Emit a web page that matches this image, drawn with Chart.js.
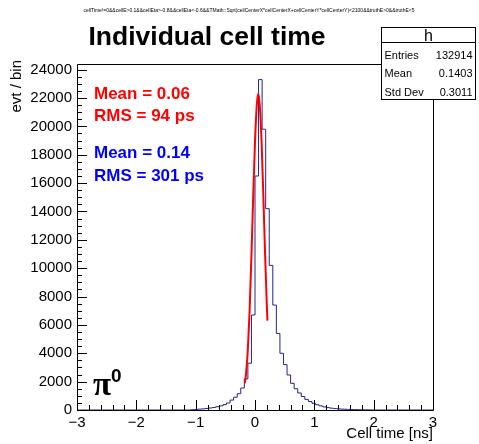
<!DOCTYPE html>
<html>
<head>
<meta charset="utf-8">
<script src="https://cdn.jsdelivr.net/npm/chart.js@4.4.0/dist/chart.umd.min.js"></script>
<style>
  body { margin: 0; background: #fff; }
  canvas { display: block; }
</style>
</head>
<body>
<canvas id="myChart" width="479" height="444"></canvas>
<script>
// histogram binning (100 bins from -3 to 3 ns)
const xMin = -3, xMax = 3, nBins = 100;

// events per bin
const counts = [
  0, 0, 0, 0, 0, 0, 0, 0, 0, 0,
  0, 0, 0, 0, 0, 0, 0, 0, 0, 0,
  0, 0, 0, 0, 0, 0, 0, 0, 0, 0,
  0, 20, 40, 60, 80, 110, 140, 180, 230, 290,
  380, 500, 700, 900, 1150, 1550, 2200, 3300, 6700, 16500,
  23300, 19800, 14200, 10200, 7400, 5400, 4000, 3200, 2470, 1880,
  1500, 1200, 950, 750, 600, 470, 370, 290, 220, 170,
  130, 100, 80, 60, 50, 40, 30, 25, 20, 15,
  10, 5, 0, 0, 0, 0, 0, 0, 0, 0,
  0, 0, 0, 0, 0, 0, 0, 0, 0, 0
];

// gaussian fit curve
const fitX = [-0.17, -0.15, -0.12, -0.09, -0.06, -0.03, 0.0, 0.03, 0.055, 0.08, 0.11, 0.14, 0.17, 0.2, 0.21];
const fitY = [1900, 2600, 4300, 7100, 10900, 15100, 18900, 21500, 22300, 21500, 19000, 15200, 11000, 7300, 6300];

const xTicks = [-3, -2, -1, 0, 1, 2, 3];
const yTicks = [0, 2000, 4000, 6000, 8000, 10000, 12000, 14000, 16000, 18000, 20000, 22000, 24000];
const yMax = 24400;

const statsTitle = 'h';
const statsRows = [['Entries', '132914'], ['Mean', '0.1403'], ['Std Dev', '0.3011']];
const selection = 'cellTime!=0&&cellE>0.1&&cellEta>-0.8&&cellEta<-0.6&&TMath::Sqrt(cellCenterX*cellCenterX+cellCenterY*cellCenterY)<2100&&truthE>0&&truthE<5';

const FONT = '"Liberation Sans", Arial, Helvetica, sans-serif';

// one point per bin edge, the value holds until the next edge
function histPoints() {
  const w = (xMax - xMin) / nBins;
  const pts = [{ x: xMin, y: counts[0] }];
  counts.forEach((c, i) => pts.push({ x: xMin + (i + 1) * w, y: c }));
  return pts;
}

const rootStyle = {
  id: 'rootStyle',
  afterDatasetsDraw(chart) {
    const ctx = chart.ctx;
    const a = chart.chartArea;
    const xs = chart.scales.x, ys = chart.scales.y;
    ctx.save();
    ctx.strokeStyle = '#000';
    ctx.lineWidth = 1;
    ctx.beginPath();
    ctx.rect(Math.round(a.left) + 0.5, Math.round(a.top) + 0.5, Math.round(a.right - a.left), Math.round(a.bottom - a.top));
    ctx.stroke();
    // x ticks, inside the frame
    ctx.beginPath();
    for (let k = 0; k <= 30; k++) {
      const v = xMin + k * 0.2;
      const px = Math.round(xs.getPixelForValue(v)) + 0.5;
      const len = (k % 5 === 0) ? 10 : 5;
      ctx.moveTo(px, a.bottom);
      ctx.lineTo(px, a.bottom - len);
    }
    // y ticks
    for (let v = 0; v <= yMax; v += 500) {
      const py = Math.round(ys.getPixelForValue(v)) + 0.5;
      const len = (v % 2000 === 0) ? 10 : 5;
      ctx.moveTo(a.left, py);
      ctx.lineTo(a.left + len, py);
    }
    ctx.stroke();
    ctx.restore();
  },
  afterDraw(chart) {
    const ctx = chart.ctx;
    const a = chart.chartArea;
    ctx.save();
    ctx.fillStyle = '#000';

    // selection string
    ctx.font = '5px ' + FONT;
    ctx.textAlign = 'center';
    ctx.textBaseline = 'alphabetic';
    ctx.fillText(selection, 249, 12);

    // title
    ctx.font = 'bold 26.5px ' + FONT;
    ctx.fillText('Individual cell time', 207, 45);

    // axis titles
    ctx.font = '15px ' + FONT;
    ctx.textAlign = 'right';
    ctx.fillText('Cell time [ns]', a.right, 438);
    ctx.save();
    ctx.translate(21, 60);
    ctx.rotate(-Math.PI / 2);
    ctx.fillText('evt / bin', 0, 0);
    ctx.restore();

    // fit / histogram numbers
    ctx.textAlign = 'left';
    ctx.font = 'bold 17px ' + FONT;
    ctx.fillStyle = '#ff0000';
    ctx.fillText('Mean = 0.06', 94, 99);
    ctx.fillText('RMS = 94 ps', 94, 121);
    ctx.fillStyle = '#0000ff';
    ctx.fillText('Mean = 0.14', 94, 158);
    ctx.fillText('RMS = 301 ps', 94, 181);

    // pi0 label
    ctx.fillStyle = '#000';
    ctx.font = 'bold 33px "Liberation Serif", "Times New Roman", serif';
    ctx.fillText('\u03c0', 93, 395);
    ctx.font = 'bold 19px ' + FONT;
    ctx.fillText('0', 111, 382);

    // stats box
    const bx = 381.5, by = 27.5, bw = 94, bh = 72;
    ctx.fillStyle = '#fff';
    ctx.fillRect(bx, by, bw, bh);
    ctx.strokeStyle = '#000';
    ctx.lineWidth = 1;
    ctx.strokeRect(bx, by, bw, bh);
    ctx.beginPath();
    ctx.moveTo(bx, by + 15);
    ctx.lineTo(bx + bw, by + 15);
    ctx.stroke();
    ctx.fillStyle = '#000';
    ctx.font = '16px ' + FONT;
    ctx.textAlign = 'center';
    ctx.fillText(statsTitle, bx + bw / 2, by + 13);
    ctx.font = '11px ' + FONT;
    statsRows.forEach((r, i) => {
      const yy = by + 31 + i * 18.5;
      ctx.textAlign = 'left';
      ctx.fillText(r[0], bx + 3, yy);
      ctx.textAlign = 'right';
      ctx.fillText(r[1], bx + bw - 3, yy);
    });
    ctx.restore();
  }
};

window.addEventListener('load', setup);

function setup() {
  const ctx = document.getElementById('myChart').getContext('2d');
  new Chart(ctx, {
    type: 'line',
    data: {
      datasets: [
        {
          label: 'fit',
          data: fitX.map((x, i) => ({ x: x, y: fitY[i] })),
          borderColor: '#ff0000',
          borderWidth: 2,
          pointRadius: 0,
          tension: 0.4,
          cubicInterpolationMode: 'monotone',
          fill: false,
          order: 0
        },
        {
          label: 'h',
          data: histPoints(),
          borderColor: '#24248c',
          borderWidth: 1,
          pointRadius: 0,
          stepped: 'before',
          fill: false,
          order: 1
        }
      ]
    },
    options: {
      responsive: false,
      animation: false,
      layout: { padding: { left: 17, top: 64, right: 46, bottom: 12 } },
      plugins: { legend: { display: false }, tooltip: { enabled: false } },
      scales: {
        x: {
          type: 'linear',
          min: xMin,
          max: xMax,
          afterBuildTicks: s => { s.ticks = xTicks.map(v => ({ value: v })); },
          afterFit: s => { s.height = 22; },
          grid: { display: false, drawTicks: false, tickLength: 0 },
          border: { display: false },
          ticks: {
            color: '#000',
            padding: 4,
            maxRotation: 0,
            font: { family: FONT, size: 15 },
            callback: v => String(v).replace('-', '\u2212')
          }
        },
        y: {
          type: 'linear',
          min: 0,
          max: yMax,
          afterBuildTicks: s => { s.ticks = yTicks.map(v => ({ value: v })); },
          afterFit: s => { s.width = 60; },
          grid: { display: false, drawTicks: false, tickLength: 0 },
          border: { display: false },
          ticks: {
            color: '#000',
            padding: 5,
            font: { family: FONT, size: 15 },
            callback: v => String(v)
          }
        }
      }
    },
    plugins: [rootStyle]
  });
}
</script>
</body>
</html>
